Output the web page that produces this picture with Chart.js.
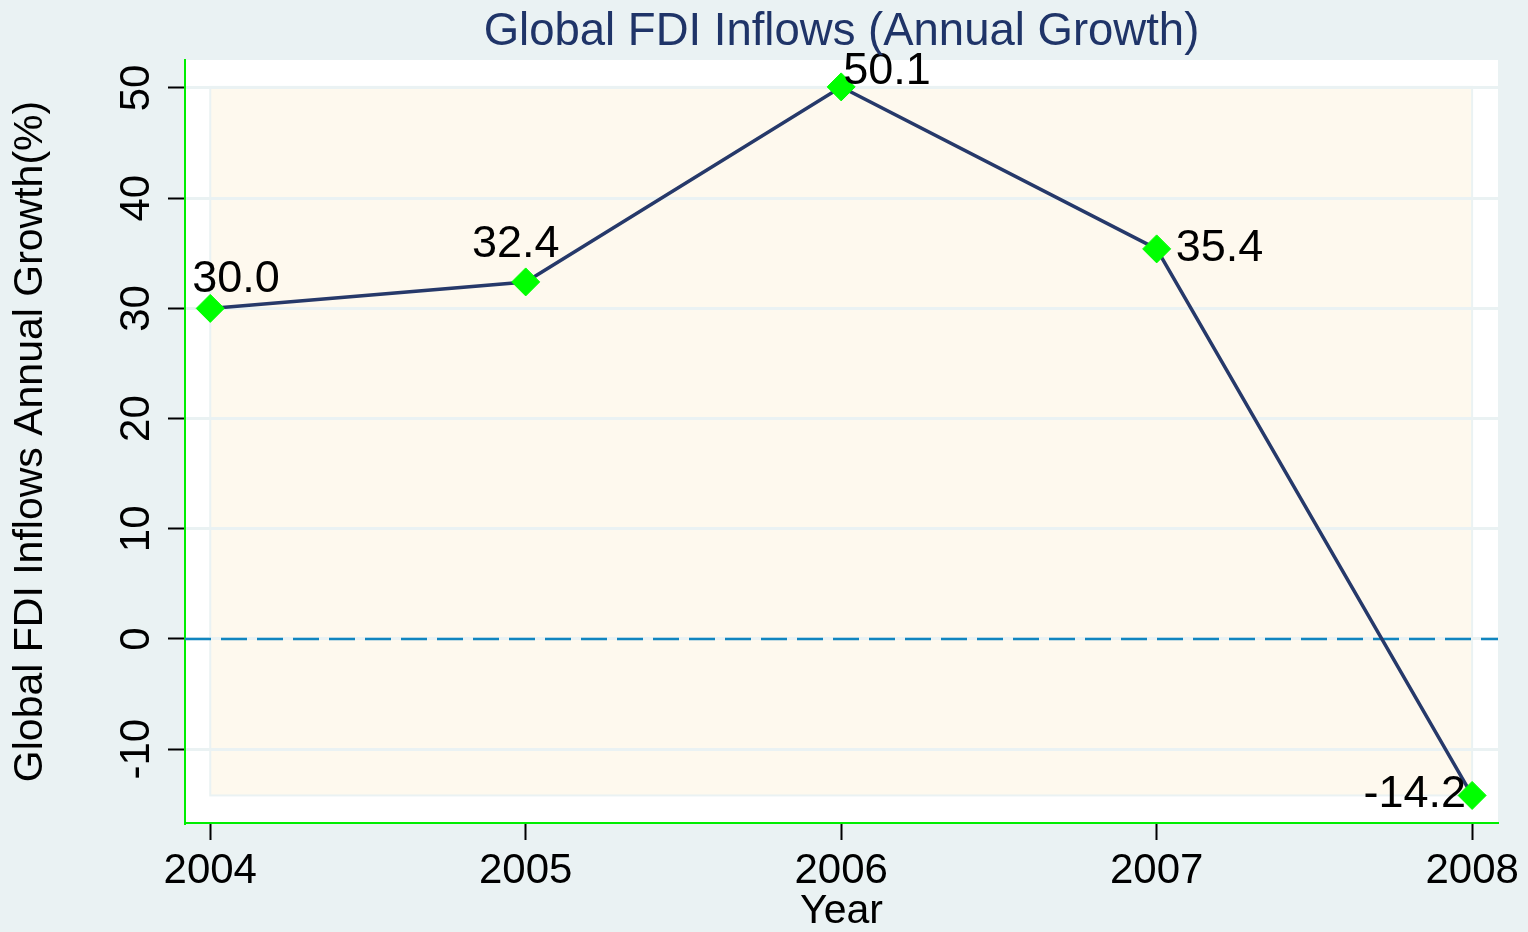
<!DOCTYPE html>
<html>
<head>
<meta charset="utf-8">
<script src="https://cdn.jsdelivr.net/npm/chart.js@4/dist/chart.umd.min.js"></script>
<style>
  html, body { margin: 0; padding: 0; background: #eaf2f3; }
  canvas { display: block; }
</style>
</head>
<body>
<canvas id="chart" width="1528" height="932"></canvas>
<script>
const years = [2004, 2005, 2006, 2007, 2008];
const growth = [30.0, 32.4, 50.1, 35.4, -14.2];
const yTicks = [-10, 0, 10, 20, 30, 40, 50];
const titleText = "Global FDI Inflows (Annual Growth)";
const yTitle = "Global FDI Inflows Annual Growth(%)";
const xTitle = "Year";

const FONT = '"Liberation Sans", Arial, sans-serif';
// where each marker label sits relative to its point: [dx, dy, align]
const labelPlace = [[-18, -16, "left"], [-10, -25, "center"], [2, -3, "left"], [19, 12, "left"], [-6, 12, "right"]];

const backdrop = {
    id: "backdrop",
    beforeDraw(chart) {
        const { ctx, chartArea: a, scales: { x, y } } = chart;
        ctx.save();
        ctx.fillStyle = "#ffffff";
        ctx.fillRect(a.left, a.top, a.right - a.left, a.bottom - a.top);
        // inner plot region spans the data range
        const x0 = x.getPixelForValue(years[0]);
        const x1 = x.getPixelForValue(years[years.length - 1]);
        const y0 = y.getPixelForValue(Math.max(...growth));
        const y1 = y.getPixelForValue(Math.min(...growth));
        ctx.fillStyle = "#fef9ee";
        ctx.fillRect(x0, y0, x1 - x0, y1 - y0);
        ctx.strokeStyle = "#eaf2f3";
        ctx.lineWidth = 2;
        ctx.strokeRect(x0, y0, x1 - x0, y1 - y0);
        ctx.restore();
    },
    beforeDatasetsDraw(chart) {
        const { ctx, chartArea: a, scales: { y } } = chart;
        const yz = y.getPixelForValue(0);
        ctx.save();
        ctx.strokeStyle = "#1085bf";
        ctx.lineWidth = 2.5;
        ctx.setLineDash([26, 10]);
        ctx.beginPath();
        ctx.moveTo(a.left, yz);
        ctx.lineTo(a.right, yz);
        ctx.stroke();
        ctx.restore();
    },
    afterDatasetsDraw(chart) {
        const { ctx } = chart;
        const pts = chart.getDatasetMeta(0).data;
        ctx.save();
        ctx.fillStyle = "#000";
        ctx.font = "45px " + FONT;
        ctx.textBaseline = "alphabetic";
        pts.forEach((p, i) => {
            const [dx, dy, align] = labelPlace[i];
            ctx.textAlign = align;
            ctx.fillText(growth[i].toFixed(1), p.x + dx, p.y + dy);
        });
        ctx.restore();
    },
    afterDraw(chart) {
        const { ctx, chartArea: a } = chart;
        ctx.save();
        ctx.fillStyle = "#1f3468";
        ctx.font = "45.5px " + FONT;
        ctx.textAlign = "center";
        ctx.textBaseline = "middle";
        ctx.fillText(titleText, (a.left + a.right) / 2, 32);
        ctx.restore();
    }
};

const ctx = document.getElementById("chart").getContext("2d");

new Chart(ctx, {
    type: "line",
    data: {
        datasets: [{
            data: years.map((yr, i) => ({ x: yr, y: growth[i] })),
            borderColor: "#26396a",
            borderWidth: 3.5,
            tension: 0,
            pointStyle: "rectRot",
            pointRadius: 14,
            pointBackgroundColor: "#00ff00",
            pointBorderColor: "#00ff00",
            pointBorderWidth: 1,
            clip: false
        }]
    },
    options: {
        responsive: false,
        animation: false,
        devicePixelRatio: 1,
        layout: { padding: { top: 60, right: 30, left: 0, bottom: 0 } },
        plugins: {
            legend: { display: false },
            tooltip: { enabled: false }
        },
        scales: {
            x: {
                type: "linear",
                min: 2003.92,
                max: 2008.082,
                afterBuildTicks: s => { s.ticks = years.map(v => ({ value: v })); },
                afterFit: s => { s.height = 109; },
                grid: { drawOnChartArea: false, tickLength: 17, tickColor: "#000", tickWidth: 2 },
                border: { color: "#00ee00", width: 2 },
                ticks: {
                    color: "#000",
                    font: { family: FONT, size: 42 },
                    padding: 6,
                    maxRotation: 0,
                    callback: v => String(v)
                },
                title: {
                    display: true,
                    text: xTitle,
                    color: "#000",
                    font: { family: FONT, size: 41, lineHeight: 1 },
                    padding: 0
                }
            },
            y: {
                min: -16.7,
                max: 52.54,
                afterBuildTicks: s => { s.ticks = yTicks.map(v => ({ value: v })); },
                afterFit: s => { s.width = 185; },
                grid: { color: "#eaf2f3", lineWidth: 3, tickLength: 17, tickColor: "#000", tickWidth: 2 },
                border: { color: "#00ee00", width: 2 },
                ticks: {
                    color: "#000",
                    font: { family: FONT, size: 42 },
                    padding: 0,
                    minRotation: 90,
                    maxRotation: 90,
                    crossAlign: "center"
                },
                title: {
                    display: true,
                    text: yTitle,
                    color: "#000",
                    font: { family: FONT, size: 41, lineHeight: 1 },
                    padding: 10
                }
            }
        }
    },
    plugins: [backdrop]
});
</script>
</body>
</html>
